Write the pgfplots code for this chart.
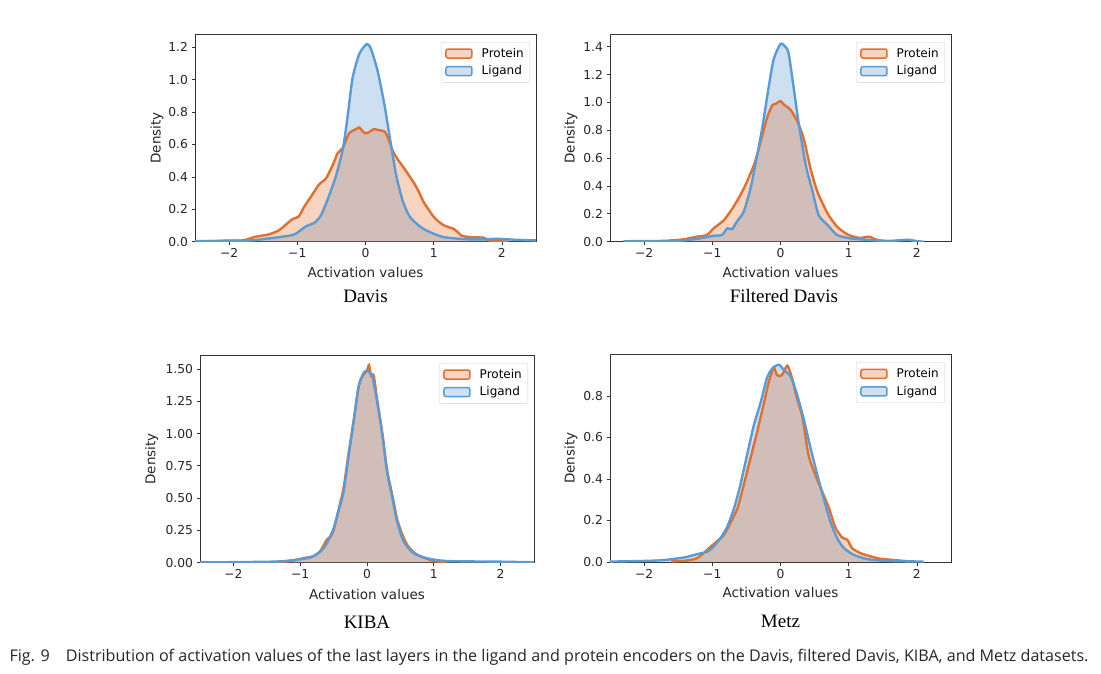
\documentclass[border=0pt]{standalone}
\usepackage{pgfplots}
\pgfplotsset{compat=1.18}
\usepackage{pgfplotstable}
\usepackage{fontspec}
\setmainfont{DejaVu Sans}
\newfontfamily\timesf{Liberation Serif}
\newfontfamily\capf{Open Sans}
\definecolor{porange}{HTML}{E07030}
\definecolor{lblue}{HTML}{5A9AD5}
\definecolor{axgray}{HTML}{333333}

\pgfplotstableread{
x y
-2.45 0.001
-2.1 0.006
-1.8 0.008
-1.62 0.03
-1.42 0.045
-1.27 0.07
-1.17 0.105
-1.07 0.14
-0.98 0.155
-0.90 0.215
-0.80 0.278
-0.68 0.354
-0.58 0.39
-0.48 0.473
-0.41 0.545
-0.33 0.58
-0.24 0.67
-0.16 0.69
-0.09 0.705
-0.04 0.68
0.0 0.67
0.05 0.675
0.12 0.695
0.20 0.688
0.28 0.68
0.33 0.64
0.40 0.56
0.47 0.51
0.55 0.463
0.62 0.42
0.70 0.37
0.78 0.31
0.85 0.247
0.93 0.195
1.0 0.154
1.07 0.125
1.14 0.103
1.22 0.09
1.29 0.08
1.35 0.06
1.41 0.037
1.50 0.03
1.59 0.027
1.73 0.025
1.80 0.01
1.95 0.003
2.1 0.0
}\davisP
\pgfplotstableread{
x y
-2.5 0.004
-2.0 0.005
-1.7 0.007
-1.42 0.02
-1.12 0.037
-1.02 0.05
-0.88 0.093
-0.75 0.117
-0.65 0.165
-0.53 0.288
-0.43 0.41
-0.33 0.576
-0.26 0.78
-0.19 1.01
-0.09 1.16
0.02 1.22
0.08 1.19
0.18 1.05
0.28 0.84
0.35 0.66
0.45 0.41
0.55 0.247
0.65 0.154
0.80 0.093
0.95 0.058
1.14 0.029
1.44 0.016
1.7 0.014
1.93 0.018
2.2 0.012
2.5 0.008
}\davisL
\pgfplotstableread{
x y
-2.3 0.003
-2.0 0.005
-1.7 0.006
-1.42 0.017
-1.23 0.036
-1.08 0.048
-0.98 0.096
-0.83 0.155
-0.69 0.25
-0.54 0.38
-0.39 0.55
-0.29 0.72
-0.20 0.885
-0.12 0.98
-0.07 0.99
0.0 1.01
0.05 0.985
0.15 0.945
0.25 0.86
0.34 0.74
0.44 0.526
0.54 0.36
0.69 0.203
0.83 0.108
0.98 0.053
1.13 0.029
1.22 0.03
1.30 0.036
1.42 0.012
1.55 0.003
}\fdavisP
\pgfplotstableread{
x y
-2.3 0.002
-1.6 0.004
-1.23 0.02
-0.98 0.043
-0.86 0.048
-0.78 0.096
-0.71 0.09
-0.64 0.144
-0.54 0.215
-0.44 0.38
-0.37 0.55
-0.27 0.81
-0.17 1.12
-0.10 1.31
0.0 1.42
0.07 1.40
0.12 1.35
0.20 1.08
0.27 0.84
0.37 0.55
0.47 0.36
0.56 0.19
0.69 0.12
0.83 0.048
1.03 0.024
1.32 0.012
1.6 0.006
1.86 0.014
2.0 0.004
2.1 0.0
}\fdavisL
\pgfplotstableread{
x y
-1.6 0.002
-1.2 0.01
-0.9 0.04
-0.8 0.05
-0.7 0.09
-0.6 0.18
-0.55 0.2
-0.5 0.25
-0.43 0.40
-0.35 0.58
-0.28 0.83
-0.2 1.1
-0.12 1.38
-0.06 1.45
0.0 1.49
0.03 1.53
0.06 1.45
0.1 1.45
0.15 1.27
0.23 1.0
0.3 0.72
0.38 0.52
0.45 0.34
0.52 0.23
0.6 0.14
0.7 0.08
0.8 0.05
0.9 0.03
1.0 0.012
1.2 0.004
}\kibaP
\pgfplotstableread{
x y
-2.5 0.002
-1.41 0.008
-1.1 0.02
-0.85 0.04
-0.70 0.085
-0.60 0.15
-0.50 0.266
-0.43 0.395
-0.35 0.55
-0.28 0.81
-0.20 1.09
-0.13 1.35
-0.05 1.47
0.01 1.485
0.08 1.44
0.15 1.25
0.23 0.99
0.30 0.705
0.38 0.50
0.45 0.32
0.55 0.163
0.70 0.072
0.90 0.034
1.2 0.013
2.0 0.008
2.5 0.003
}\kibaL
\pgfplotstableread{
x y
-1.6 0.003
-1.41 0.006
-1.22 0.019
-1.02 0.075
-0.93 0.1
-0.83 0.13
-0.73 0.19
-0.63 0.26
-0.54 0.37
-0.44 0.50
-0.34 0.63
-0.24 0.77
-0.17 0.87
-0.10 0.936
-0.05 0.90
0.02 0.90
0.10 0.946
0.17 0.885
0.24 0.79
0.32 0.70
0.41 0.516
0.51 0.42
0.61 0.34
0.71 0.26
0.80 0.17
0.90 0.119
0.98 0.107
1.05 0.067
1.17 0.043
1.32 0.027
1.46 0.016
1.71 0.008
1.9 0.003
}\metzP
\pgfplotstableread{
x y
-2.5 0.002
-1.9 0.006
-1.66 0.011
-1.41 0.022
-1.22 0.038
-1.07 0.05
-0.98 0.075
-0.88 0.115
-0.78 0.17
-0.68 0.26
-0.59 0.37
-0.49 0.516
-0.39 0.66
-0.29 0.77
-0.20 0.885
-0.12 0.933
-0.02 0.95
0.05 0.925
0.15 0.893
0.24 0.81
0.34 0.69
0.44 0.55
0.54 0.42
0.63 0.31
0.73 0.196
0.83 0.115
0.93 0.067
1.07 0.035
1.27 0.014
1.51 0.006
2.1 0.002
}\metzL

\pgfplotsset{
  dens/.style={
    scale only axis, height=207.7pt,
    xmin=-2.5, xmax=2.5, ymin=0,
    xtick={-2,-1,0,1,2}, xticklabels={−2,−1,0,1,2},
    tick align=outside, xtick pos=bottom, ytick pos=left,
    major tick length=3.5pt,
    major tick style={axgray, line width=0.8pt},
    axis line style={axgray, line width=0.8pt},
    ticklabel style={font=\fontsize{12.3}{14}\selectfont, text=black!85},
    label style={font=\fontsize{13.5}{15}\selectfont, text=black!85},
    xlabel={Activation values}, ylabel={Density},
    title style={font=\timesf\fontsize{19}{22}\selectfont, anchor=base},
    legend cell align=left,
    legend style={at={(1,1)}, anchor=north east, xshift=-6pt, yshift=-8pt,
      draw=black!18, rounded corners=2pt, fill=white,
      font=\fontsize{12}{14}\selectfont, inner xsep=4pt, inner ysep=4pt,
      row sep=3pt, /tikz/every odd column/.append style={column sep=7pt}},
  }
}
\newcommand{\kdepair}[2]{%
  \addplot[draw=none, fill=lblue, fill opacity=0.3, smooth, tension=0.4, forget plot] table {#2} \closedcycle;
  \addplot[draw=none, fill=porange, fill opacity=0.3, smooth, tension=0.4, forget plot] table {#1} \closedcycle;
  \addplot[porange, line width=2.4pt, smooth, tension=0.4, forget plot] table {#1};
  \addplot[lblue, line width=2.4pt, smooth, tension=0.4, forget plot] table {#2};
  \addlegendimage{legend image code/.code={\draw[draw=porange, fill=porange!30, line width=1.5pt] (0pt,-4.5pt) rectangle (26pt,4.5pt);}}
  \addlegendentry{Protein}
  \addlegendimage{legend image code/.code={\draw[draw=lblue, fill=lblue!30, line width=1.5pt] (0pt,-4.5pt) rectangle (26pt,4.5pt);}}
  \addlegendentry{Ligand}
}

\begin{document}
\begin{tikzpicture}
\useasboundingbox (0,0) rectangle (1101pt,-673pt);
\begin{axis}[dens, width=341pt, at={(195pt,-34pt)}, anchor=north west,
  ymax=1.282, ytick={0,0.2,0.4,0.6,0.8,1.0,1.2},
  yticklabels={0.0,0.2,0.4,0.6,0.8,1.0,1.2},
  ylabel style={at={(axis description cs:-0.112,0.5)}, anchor=center},
  xlabel style={at={(axis description cs:0.5,-0.147)}, anchor=center},
  title={Davis}, title style={at={(0.5,-0.322)}}]
\kdepair{\davisP}{\davisL}
\end{axis}
\begin{axis}[dens, width=341pt, at={(610pt,-34pt)}, anchor=north west,
  ymax=1.491, ytick={0,0.2,0.4,0.6,0.8,1.0,1.2,1.4},
  yticklabels={0.0,0.2,0.4,0.6,0.8,1.0,1.2,1.4},
  ylabel style={at={(axis description cs:-0.115,0.5)}, anchor=center},
  xlabel style={at={(axis description cs:0.5,-0.147)}, anchor=center},
  title={Filtered Davis}, title style={at={(0.51,-0.322)}}]
\kdepair{\fdavisP}{\fdavisL}
\end{axis}
\begin{axis}[dens, width=334pt, at={(200pt,-355pt)}, anchor=north west,
  ymax=1.608, ytick={0,0.25,0.5,0.75,1.0,1.25,1.5},
  yticklabels={0.00,0.25,0.50,0.75,1.00,1.25,1.50},
  ylabel style={at={(axis description cs:-0.145,0.5)}, anchor=center},
  xlabel style={at={(axis description cs:0.5,-0.152)}, anchor=center},
  title={KIBA}, title style={at={(0.5,-0.347)}}]
\kdepair{\kibaP}{\kibaL}
\end{axis}
\begin{axis}[dens, width=341pt, at={(610pt,-354.3pt)}, anchor=north west,
  ymax=1.0006, ytick={0,0.2,0.4,0.6,0.8},
  yticklabels={0.0,0.2,0.4,0.6,0.8},
  ylabel style={at={(axis description cs:-0.115,0.5)}, anchor=center},
  xlabel style={at={(axis description cs:0.5,-0.149)}, anchor=center},
  title={Metz}, title style={at={(0.5,-0.342)}}]
\kdepair{\metzP}{\metzL}
\end{axis}
\node[anchor=base west, font=\capf\fontsize{16.1}{18}\selectfont, text=black!85] at (6pt,-661pt)
  {Fig. 9\quad Distribution of activation values of the last layers in the ligand and protein encoders on the Davis, filtered Davis, KIBA, and Metz datasets.};
\end{tikzpicture}
\end{document}
